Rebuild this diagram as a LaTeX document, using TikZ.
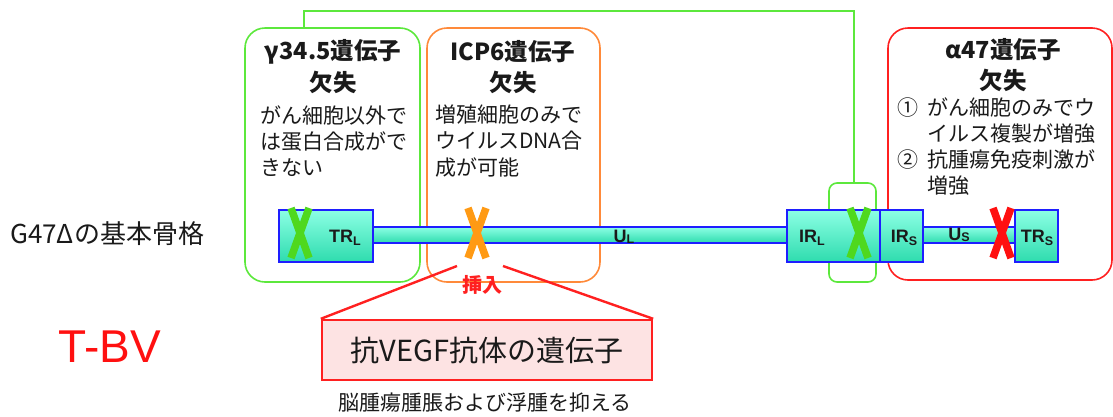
\documentclass[tikz,border=0pt]{standalone}
\usepackage{fontspec}
\setmainfont{Noto Sans CJK JP}
\newfontfamily\arialf{Liberation Sans}
\definecolor{gline}{HTML}{5CE83C}
\definecolor{oline}{HTML}{FF8A3A}
\definecolor{rline}{HTML}{FF2020}
\definecolor{gx}{HTML}{4FD81E}
\definecolor{ox}{HTML}{FF9A14}
\definecolor{rx}{HTML}{FF1010}
\definecolor{aqtop}{HTML}{8CFFE4}
\definecolor{aqbot}{HTML}{2EDCAE}
\definecolor{dnablue}{HTML}{1E1EFF}
\definecolor{pinkfill}{HTML}{FDE3E3}
\definecolor{txt}{HTML}{1A1A1A}
\newcommand\seglbl[2]{#1\raisebox{-2.5pt}{\fontsize{12.5}{12.5}\selectfont #2}}
\tikzset{
  rbox/.style={draw, line width=1.6pt, rounded corners=20pt, inner sep=0pt, fill=none},
  dnabox/.style={draw=dnablue, line width=1.5pt, top color=aqtop, bottom color=aqbot, inner sep=0pt, font=\arialf\bfseries\fontsize{17.5}{17.5}\selectfont, text=txt},
  xstroke/.style={line width=7.5pt},
  ttl/.style={font=\bfseries\fontsize{23.5}{23.5}\selectfont, text=txt, inner sep=0pt},
  body/.style={font=\fontsize{21}{26.3}\selectfont, text=txt, align=left, inner sep=0pt, anchor=west},
  seg/.style={font=\arialf\bfseries\fontsize{18}{18}\selectfont, text=txt, inner sep=0pt},
}
\begin{document}
\begin{tikzpicture}[x=1pt,y=-1pt]
\fill[white] (0,0) rectangle (1113,416);
\useasboundingbox (0,0) rectangle (1113,416);

% rounded boxes
\node[rbox, draw=gline, minimum width=175pt, minimum height=254pt] (g1) at (332.5,155) {};
\node[rbox, draw=oline, minimum width=173pt, minimum height=254pt] (o1) at (513.5,155) {};
\node[rbox, draw=rline, minimum width=224pt, minimum height=252pt] (r1) at (1000,154) {};
\node[rbox, draw=gline, rounded corners=8pt, minimum width=47pt, minimum height=99pt] (gs) at (852.5,232.5) {};

% connector between green boxes
\coordinate (c1) at (304,11);
\coordinate (c2) at (854,11);
\draw[gline, line width=1.6pt] (g1.north -| c1) -- (c1) -- (c2) -- (c2 |- gs.north);

% box texts
\node[ttl] (t1) at (333,52) {γ34.5遺伝子};
\node[ttl] (t1b) at (333,82) {欠失};
\node[body] (b1) at (260,141) {がん細胞以外で\\は蛋白合成がで\\きない};

\node[ttl] (t2) at (513,52) {ICP6遺伝子};
\node[ttl] (t2b) at (513,82) {欠失};
\node[body] (b2) at (435,141) {増殖細胞のみで\\ウイルスDNA合\\成が可能};

\node[ttl] (t3) at (1003,50) {α47遺伝子};
\node[ttl] (t3b) at (1003,80) {欠失};
\node[body] (b3) at (897,146.5) {\makebox[30pt][l]{①}がん細胞のみでウ\\\hspace*{30pt}イルス複製が増強\\\makebox[30pt][l]{②}抗腫瘍免疫刺激が\\\hspace*{30pt}増強};

% genome label
\node[font=\fontsize{26}{26}\selectfont, text=txt, inner sep=0pt, anchor=west] (g47) at (10,234) {G47Δの基本骨格};

% DNA backbone
\node[dnabox, minimum width=414pt, minimum height=16pt] (barL) at (580,235) {};
\node[dnabox, minimum width=92pt, minimum height=16pt] (barS) at (969,235) {};
\node[dnabox, minimum width=94pt, minimum height=52pt] (trL) at (326,236) {};
\node[dnabox, minimum width=93pt, minimum height=52pt] (irL) at (833.5,236) {};
\node[dnabox, minimum width=43pt, minimum height=52pt] (irS) at (901.5,236) {};
\node[dnabox, minimum width=43pt, minimum height=52pt] (trS) at (1036.5,236) {};

\node[seg] (ltrL) at (345,238) {\seglbl{TR}{L}};
\node[seg] (luL) at (624,237) {U\raisebox{-1pt}{\fontsize{12.5}{12.5}\selectfont L}};
\node[seg] (lirL) at (812,238) {\seglbl{IR}{L}};
\node[seg] (lirS) at (904,238) {\seglbl{IR}{S}};
\node[seg] (luS) at (959,235) {U\raisebox{-1pt}{\fontsize{12.5}{12.5}\selectfont S}};
\node[seg] (ltrS) at (1037,238) {\seglbl{TR}{S}};

% X marks
\coordinate (x1) at (300,233);
\coordinate (x2) at (477,233);
\coordinate (x3) at (859,233);
\coordinate (x4) at (1002,233);
\foreach \c/\col in {x1/gx, x2/ox, x3/gx, x4/rx}{
  \draw[xstroke, \col] ([shift={(-9,-25)}]\c) -- ([shift={(9,25)}]\c);
  \draw[xstroke, \col] ([shift={(9,-25)}]\c) -- ([shift={(-9,25)}]\c);
}

% insertion
\node[font=\bfseries\fontsize{20}{20}\selectfont, text=rline, inner sep=0pt] (ins) at (482,285) {挿入};
\node[draw=rline, line width=2.4pt, fill=pinkfill, minimum width=330pt, minimum height=60pt, inner sep=0pt, font=\fontsize{29}{29}\selectfont, text=txt] (vegf) at (487,350) {抗VEGF抗体の遺伝子};
\coordinate (insl) at (457,266);
\coordinate (insr) at (503,266);
\draw[rline, line width=2.4pt] (insl) -- (vegf.north west);
\draw[rline, line width=2.4pt] (insr) -- (vegf.north east);
\node[font=\fontsize{21}{21}\selectfont, text=txt, inner sep=0pt] (eff) at (485,403) {脳腫瘍腫脹および浮腫を抑える};

% T-BV
\node[font=\arialf\fontsize{46}{46}\selectfont, text=rx, inner sep=0pt] (tbv) at (110,347) {T-BV};
\end{tikzpicture}
\end{document}
